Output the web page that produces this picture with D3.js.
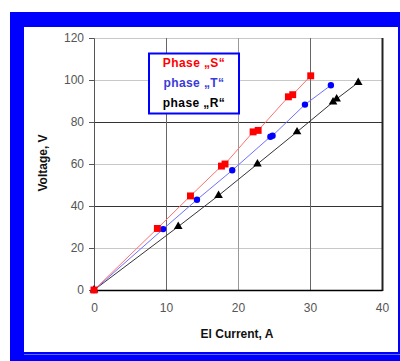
<!DOCTYPE html>
<html>
<head>
<meta charset="utf-8">
<script src="https://cdn.jsdelivr.net/npm/d3@7/dist/d3.min.js"></script>
<style>
  html, body { margin: 0; padding: 0; background: #fff; }
  svg { display: block; }
</style>
</head>
<body>
<script>
// Measured voltage vs. current for the three phases
const phaseS_current = [0, 8.8, 13.4, 17.7, 18.2, 22.1, 22.8, 27.0, 27.6, 30.1];
const phaseS_voltage = [0, 29.3, 44.8, 59.0, 60.0, 75.3, 76.0, 92.0, 93.0, 102.0];
const phaseT_current = [0, 9.6, 14.3, 19.2, 24.5, 24.8, 29.3, 32.9];
const phaseT_voltage = [0, 29.0, 43.0, 57.0, 73.0, 73.5, 88.3, 97.5];
const phaseR_current = [0, 11.7, 17.3, 22.7, 28.2, 33.2, 33.7, 36.7];
const phaseR_voltage = [0, 30.2, 45.0, 60.0, 75.3, 89.5, 91.0, 98.8];
const xTicks = [0, 10, 20, 30, 40];
const yTicks = [0, 20, 40, 60, 80, 100, 120];
const legendLabels = ["Phase \u201eS\u201c", "phase \u201eT\u201c", "phase \u201eR\u201c"];

const W = 400, H = 361;
const svg = d3.select("body").append("svg").attr("width", W).attr("height", H);

// Blue frame around the chart
svg.append("rect").attr("x", 10).attr("y", 12).attr("width", 390).attr("height", 349).attr("fill", "#0000ff");
svg.append("rect").attr("x", 24).attr("y", 27).attr("width", 374).attr("height", 325).attr("fill", "#ffffff");
svg.append("line").attr("x1", 24).attr("x2", 400).attr("y1", 354.5).attr("y2", 354.5)
  .attr("stroke", "#5a6cff").attr("stroke-width", 1);

const x = d3.scaleLinear().domain([0, 40]).range([94, 382]);
const y = d3.scaleLinear().domain([0, 120]).range([290, 38]);

// Grid lines
const g = svg.append("g");
yTicks.filter(v => v > 0).forEach(v => {
  g.append("line").attr("x1", x(0)).attr("x2", x(40))
    .attr("y1", Math.round(y(v)) + 0.5).attr("y2", Math.round(y(v)) + 0.5)
    .attr("stroke", (v === 40 || v === 80) ? "#333" : "#c8c8c8").attr("stroke-width", 1);
});
xTicks.filter(v => v > 0 && v < 40).forEach(v => {
  g.append("line").attr("y1", y(0)).attr("y2", y(120))
    .attr("x1", Math.round(x(v)) + 0.5).attr("x2", Math.round(x(v)) + 0.5)
    .attr("stroke", v === 20 ? "#999" : "#666").attr("stroke-width", 1);
});
// Right border of the plot area
g.append("line").attr("x1", x(40) + 0.5).attr("x2", x(40) + 0.5).attr("y1", y(120)).attr("y2", y(0) + 1)
  .attr("stroke", "#222").attr("stroke-width", 2);

// Axes
const xAxis = d3.axisBottom(x).tickValues(xTicks).tickSize(0).tickPadding(13).tickFormat(d3.format("d"));
const yAxis = d3.axisLeft(y).tickValues(yTicks).tickSize(5).tickPadding(5).tickFormat(d3.format("d"));
const gx = svg.append("g").attr("transform", `translate(0,${y(0)})`).call(xAxis);
gx.select(".domain").attr("stroke", "#000").attr("stroke-width", 1.5);
const gy = svg.append("g").attr("transform", `translate(${x(0)},0)`).call(yAxis);
gy.select(".domain").attr("stroke", "#555").attr("stroke-width", 1);
gy.selectAll(".tick line").attr("stroke", "#555");
[gx, gy].forEach(a => a.selectAll("text")
  .attr("font-family", "Arial, 'Liberation Sans', sans-serif")
  .attr("font-size", 12).attr("fill", "#555"));

// Axis titles
svg.append("text").attr("x", 237).attr("y", 338).attr("text-anchor", "middle")
  .attr("font-family", "Arial, 'Liberation Sans', sans-serif").attr("font-size", 12)
  .attr("font-weight", "bold").attr("fill", "#111").text("El Current, A");
svg.append("text").attr("transform", "translate(47,163) rotate(-90)").attr("text-anchor", "middle")
  .attr("font-family", "Arial, 'Liberation Sans', sans-serif").attr("font-size", 12)
  .attr("font-weight", "bold").attr("fill", "#111").text("Voltage, V");

// Series
const series = [
  { xs: phaseS_current, ys: phaseS_voltage, line: "#ff7070", fill: "#ff0000", shape: d3.symbolSquare, size: 48 },
  { xs: phaseT_current, ys: phaseT_voltage, line: "#7070ff", fill: "#0000ff", shape: d3.symbolCircle, size: 32 },
  { xs: phaseR_current, ys: phaseR_voltage, line: "#333", fill: "#000", shape: d3.symbolTriangle, size: 32 }
];
const lineGen = d3.line().x(d => x(d[0])).y(d => y(d[1]));
series.slice().reverse().forEach(s => {
  const pts = s.xs.map((v, i) => [v, s.ys[i]]);
  svg.append("path").datum(pts).attr("d", lineGen)
    .attr("fill", "none").attr("stroke", s.line).attr("stroke-width", 1);
  svg.append("g").selectAll("path").data(pts).join("path")
    .attr("transform", d => `translate(${x(d[0])},${y(d[1])})`)
    .attr("d", d3.symbol().type(s.shape).size(s.size))
    .attr("fill", s.fill);
});

// Legend
svg.append("rect").attr("x", 149).attr("y", 53.5).attr("width", 90).attr("height", 60)
  .attr("fill", "#fff").attr("stroke", "#0000ff").attr("stroke-width", 2);
const legendColors = ["#ff0000", "#3a3ad8", "#000"];
legendLabels.forEach((t, i) => {
  svg.append("text").attr("x", 194).attr("y", 67 + i * 20).attr("text-anchor", "middle")
    .attr("font-family", "Arial, 'Liberation Sans', sans-serif").attr("font-size", 12)
    .attr("font-weight", "bold").attr("letter-spacing", 0.4)
    .attr("fill", legendColors[i]).text(t);
});
</script>
</body>
</html>
